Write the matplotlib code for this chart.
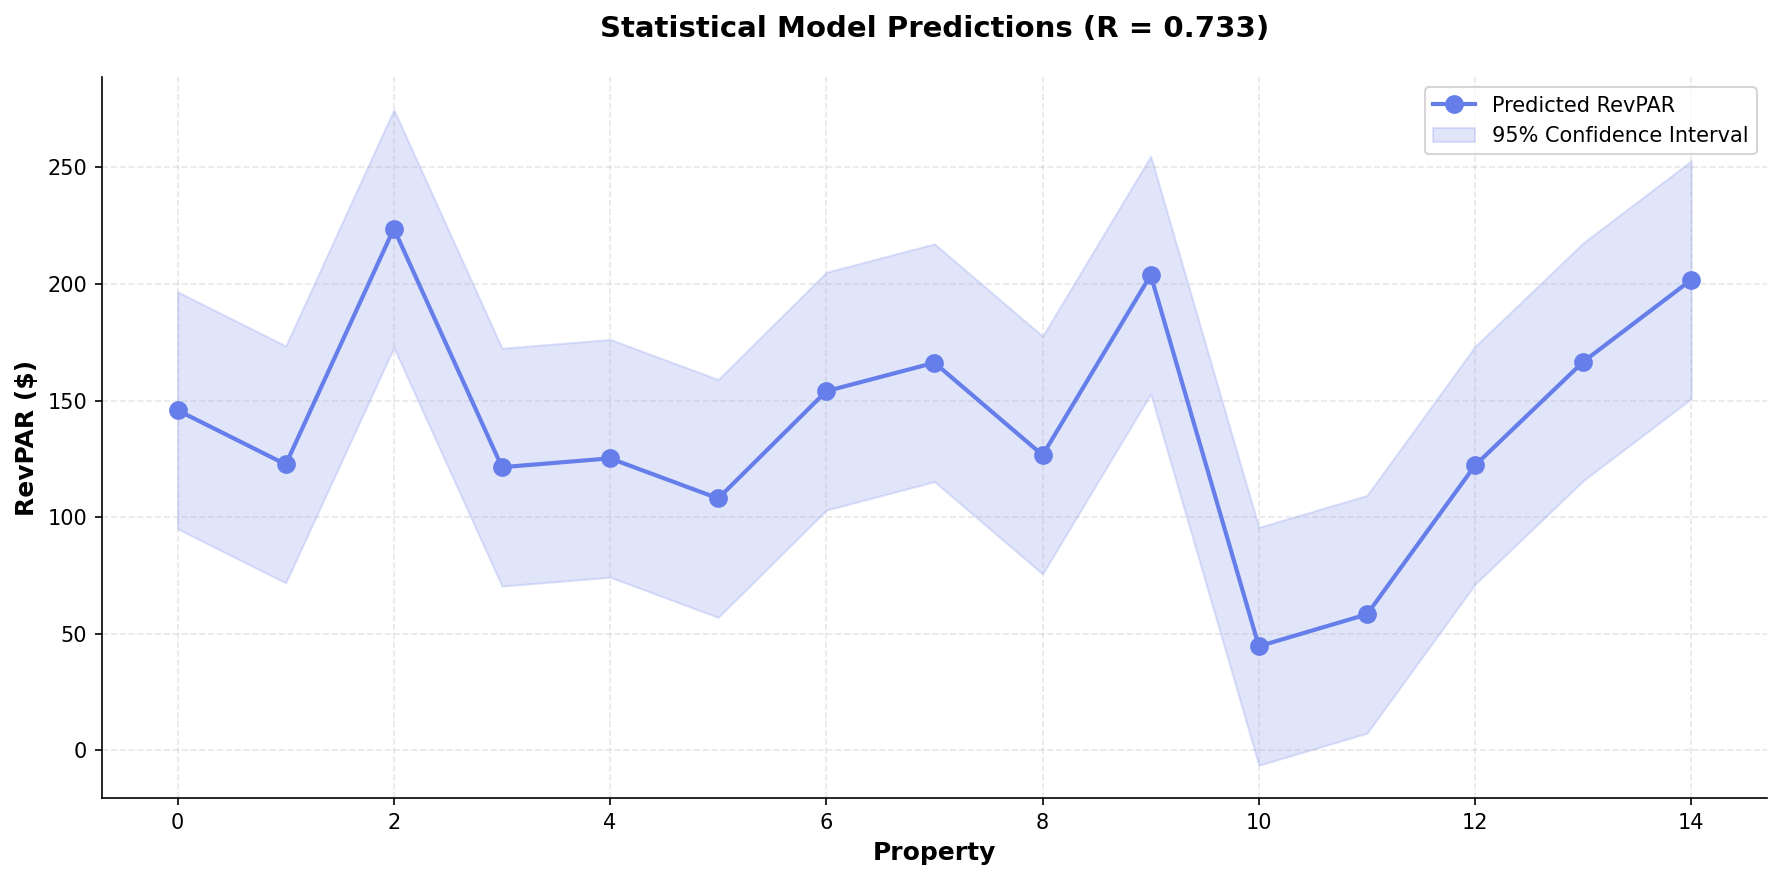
import matplotlib
matplotlib.use("Agg")
import matplotlib.pyplot as plt
import numpy as np

# Data
properties = np.arange(15)
predicted = [145.8, 122.6, 223.7, 121.4, 125.2, 108.0, 154.0, 166.2, 126.6, 203.8,
             44.6, 58.3, 122.2, 166.6, 201.8]
ci_lower = [95.0, 71.8, 172.7, 70.4, 74.2, 57.0, 103.0, 115.2, 75.6, 152.8,
            -6.4, 7.3, 71.2, 115.6, 150.8]
ci_upper = [196.6, 173.4, 274.7, 172.4, 176.2, 159.0, 205.0, 217.2, 177.6, 254.8,
            95.6, 109.3, 173.2, 217.6, 252.8]
r_value = 0.733

color = '#667eea'

fig = plt.figure(figsize=(11.88, 5.867), dpi=150)
ax = fig.add_axes([0.0572, 0.0932, 0.9344, 0.8193])

ax.plot(properties, predicted, 'o-', color=color, linewidth=2, markersize=8,
        label='Predicted RevPAR')
ax.fill_between(properties, ci_lower, ci_upper, color=color, alpha=0.2,
                label='95% Confidence Interval')

ax.set_title(f'Statistical Model Predictions (R = {r_value:.3f})',
             fontsize=14, fontweight='bold', pad=19)
ax.set_xlabel('Property', fontsize=12, fontweight='bold')
ax.set_ylabel('RevPAR ($)', fontsize=12, fontweight='bold')
ax.grid(True, linestyle='--', alpha=0.3)
ax.spines['top'].set_visible(False)
ax.spines['right'].set_visible(False)
ax.legend(loc='upper right', fontsize=10)

fig.savefig("out.png", dpi=150)
